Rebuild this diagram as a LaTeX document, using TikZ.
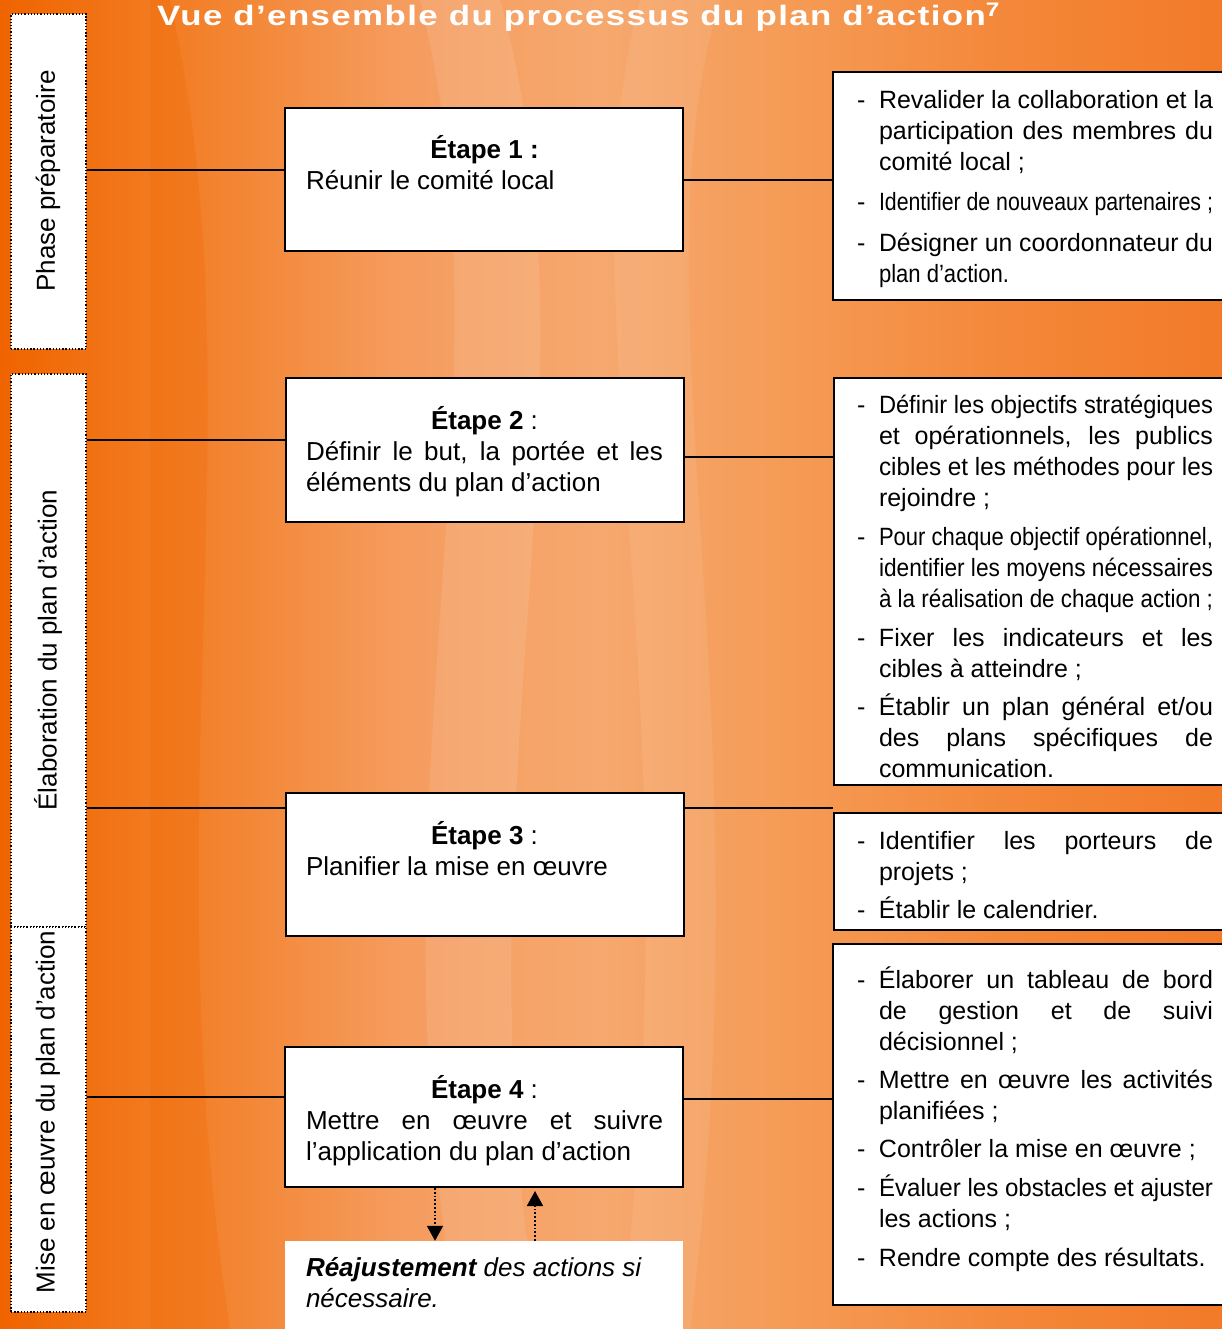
\documentclass[tikz,border=0pt]{standalone}
\usepackage{fontspec}
\setmainfont{Liberation Sans}
\newfontfamily\tfam[LetterSpace=4]{Liberation Sans}
\usepackage{graphicx}
\usetikzlibrary{arrows.meta}
\definecolor{bg0}{HTML}{F06400}
\definecolor{bg1}{HTML}{F27A1E}
\definecolor{bg2}{HTML}{F59C5E}
\definecolor{bg3}{HTML}{F6A86E}
\definecolor{bg4}{HTML}{F59A54}
\definecolor{bg5}{HTML}{F4883A}
\definecolor{bg6}{HTML}{F27A28}
\newsavebox\jbox
\newcommand\jl[2]{\sbox\jbox{#2}\ifdim\wd\jbox>#1\relax\resizebox{#1}{\height}{#2}\else\makebox[#1][s]{#2}\fi}
\newcommand\rdash{\makebox[22pt][l]{-}}
\newcommand\rind{\hspace*{22pt}}
\newcommand\rfnt{\fontsize{25}{31}\selectfont}
\newcommand\sfnt{\fontsize{26}{31}\selectfont}
\def\rw{334pt}
\def\sw{357pt}
\tikzset{
  phasebox/.style={draw=black, fill=white, line width=1.4pt, dash pattern=on 1.3pt off 1.9pt, inner sep=0pt},
  stepbox/.style={draw=black, fill=white, line width=2pt, inner sep=0pt},
  rbox/.style={draw=black, fill=white, line width=2pt, inner sep=0pt},
  txt/.style={inner sep=0pt, outer sep=0pt, anchor=base west, text=black},
  link/.style={draw=black, line width=2pt},
  dotarr/.style={draw=black, line width=1.8pt, dash pattern=on 1.8pt off 2pt, -{Triangle[width=16pt,length=15pt]}},
}
\begin{document}
\begin{tikzpicture}[x=1pt,y=-1pt]
\useasboundingbox (0,0) rectangle (1222,1329);
% background
\fill[left color=bg0, right color=bg1] (-1,-1) rectangle (151,1330);
\fill[left color=bg1, right color=bg2] (150,-1) rectangle (401,1330);
\fill[left color=bg2, right color=bg3] (400,-1) rectangle (601,1330);
\fill[left color=bg3, right color=bg4] (600,-1) rectangle (801,1330);
\fill[left color=bg4, right color=bg5] (800,-1) rectangle (1001,1330);
\fill[left color=bg5, right color=bg6] (1000,-1) rectangle (1223,1330);
\fill[white, opacity=0.10] (420,0) .. controls (520,400) and (360,800) .. (460,1329) -- (540,1329) .. controls (450,800) and (610,400) .. (500,0) -- cycle;
\fill[white, opacity=0.08] (640,0) .. controls (560,300) and (700,700) .. (620,1329) -- (690,1329) .. controls (770,700) and (630,300) .. (720,0) -- cycle;
\fill[bg0, opacity=0.25] (170,0) .. controls (260,400) and (150,800) .. (230,1329) -- (150,1329) -- (150,0) -- cycle;

% title
\node[txt, text=white] (title) at (157,26) {\resizebox{843pt}{\height}{\tfam\bfseries\fontsize{28}{30}\selectfont Vue d’ensemble du processus du plan d’action\textsuperscript{7}}};

% phase boxes
\node[phasebox, minimum width=75pt, minimum height=335pt] (ph1) at (48.5,181.5) {};
\node[phasebox, minimum width=75pt, minimum height=553pt] (ph2) at (48.5,650.5) {};
\node[phasebox, minimum width=75pt, minimum height=385pt] (ph3) at (48.5,1119.5) {};
\node[rotate=90, inner sep=0pt, font=\sfnt] (pl1) at (48,181) {Phase préparatoire};
\node[rotate=90, inner sep=0pt, font=\sfnt] (pl2) at (48,650) {Élaboration du plan d’action};
\node[rotate=90, inner sep=0pt, font=\sfnt] (pl3) at (48,1112) {Mise en œuvre du plan d’action};

% step boxes
\node[stepbox, minimum width=398pt, minimum height=143pt] (s1) at (484,179.5) {};
\node[stepbox, minimum width=398pt, minimum height=144pt] (s2) at (485,450) {};
\node[stepbox, minimum width=398pt, minimum height=143pt] (s3) at (485,864.5) {};
\node[stepbox, minimum width=398pt, minimum height=140pt] (s4) at (484,1117) {};
\node[fill=white, inner sep=0pt, minimum width=398pt, minimum height=99pt] (rj) at (484,1290.5) {};

% right boxes
\node[rbox, minimum width=397pt, minimum height=228pt] (r1) at (1031.5,186) {};
\node[rbox, minimum width=396pt, minimum height=407pt] (r2) at (1032,581.5) {};
\node[rbox, minimum width=396pt, minimum height=117pt] (r3) at (1032,871.5) {};
\node[rbox, minimum width=397pt, minimum height=361pt] (r4) at (1031.5,1124.5) {};

% connectors
\coordinate (y1) at (0,170);
\coordinate (y1r) at (0,180);
\coordinate (y2) at (0,440);
\coordinate (y2r) at (0,457);
\coordinate (y3) at (0,808);
\coordinate (y4) at (0,1097);
\coordinate (y4r) at (0,1099);
\coordinate (ax1) at (435,0);
\coordinate (ax2) at (535,0);
\draw[link] (ph1.east |- y1) -- (s1.west |- y1);
\draw[link] (ph2.east |- y2) -- (s2.west |- y2);
\draw[link] (ph2.east |- y3) -- (s3.west |- y3);
\draw[link] (ph3.east |- y4) -- (s4.west |- y4);
\draw[link] (s1.east |- y1r) -- (r1.west |- y1r);
\draw[link] (s2.east |- y2r) -- (r2.west |- y2r);
\draw[link] (s3.east |- y3) -- (r2.west |- y3);
\draw[link] (s4.east |- y4r) -- (r4.west |- y4r);
\draw[dotarr] (s4.south -| ax1) -- (rj.north -| ax1);
\draw[dotarr] (rj.north -| ax2) -- ([yshift=-3pt]s4.south -| ax2);

% step texts
\node[txt] (st1) at (306,159) {\parbox[t]{\sw}{\sfnt\setlength\parindent{0pt}%
\makebox[\sw][c]{\textbf{Étape 1 :}}\par
Réunir le comité local}};
\node[txt] (st2) at (306,429) {\parbox[t]{\sw}{\sfnt\setlength\parindent{0pt}%
\makebox[\sw][c]{\textbf{Étape 2} :}\par
\jl{\sw}{Définir le but, la portée et les}\par
éléments du plan d’action}};
\node[txt] (st3) at (306,844) {\parbox[t]{\sw}{\sfnt\setlength\parindent{0pt}%
\makebox[\sw][c]{\textbf{Étape 3} :}\par
Planifier la mise en œuvre}};
\node[txt] (st4) at (306,1098) {\parbox[t]{\sw}{\sfnt\setlength\parindent{0pt}%
\makebox[\sw][c]{\textbf{Étape 4} :}\par
\jl{\sw}{Mettre en œuvre et suivre}\par
l’application du plan d’action}};
\node[txt] (rjt) at (306,1276) {\parbox[t]{\sw}{\sfnt\itshape\setlength\parindent{0pt}%
\textbf{Réajustement} des actions si\par
nécessaire.}};

% right texts
\node[txt] (rt1) at (857,109) {\parbox[t]{360pt}{\rfnt\setlength\parindent{0pt}%
\rdash\jl{\rw}{Revalider la collaboration et la}\par
\rind\jl{\rw}{participation des membres du}\par
\rind comité local ;\par\vspace{9pt}
\rdash\jl{\rw}{Identifier de nouveaux partenaires ;}\par\vspace{10pt}
\rdash\jl{\rw}{Désigner un coordonnateur du}\par
\rind\resizebox{130pt}{\height}{plan d’action.}}};

\node[txt] (rt2) at (857,413) {\parbox[t]{360pt}{\rfnt\setlength\parindent{0pt}%
\rdash\jl{\rw}{Définir les objectifs stratégiques}\par
\rind\jl{\rw}{et opérationnels, les publics}\par
\rind\jl{\rw}{cibles et les méthodes pour les}\par
\rind rejoindre ;\par\vspace{8pt}
\rdash\jl{\rw}{Pour chaque objectif opérationnel,}\par
\rind\jl{\rw}{identifier les moyens nécessaires}\par
\rind\jl{\rw}{à la réalisation de chaque action ;}\par\vspace{8pt}
\rdash\jl{\rw}{Fixer les indicateurs et les}\par
\rind cibles à atteindre ;\par\vspace{7pt}
\rdash\jl{\rw}{Établir un plan général et/ou}\par
\rind\jl{\rw}{des plans spécifiques de}\par
\rind communication.}};

\node[txt] (rt3) at (857,849) {\parbox[t]{360pt}{\rfnt\setlength\parindent{0pt}%
\rdash\jl{\rw}{Identifier les porteurs de}\par
\rind projets ;\par\vspace{7pt}
\rdash Établir le calendrier.}};

\node[txt] (rt4) at (857,988) {\parbox[t]{360pt}{\rfnt\setlength\parindent{0pt}%
\rdash\jl{\rw}{Élaborer un tableau de bord}\par
\rind\jl{\rw}{de gestion et de suivi}\par
\rind décisionnel ;\par\vspace{7pt}
\rdash\jl{\rw}{Mettre en œuvre les activités}\par
\rind planifiées ;\par\vspace{7pt}
\rdash Contrôler la mise en œuvre ;\par\vspace{8pt}
\rdash\jl{\rw}{Évaluer les obstacles et ajuster}\par
\rind les actions ;\par\vspace{8pt}
\rdash Rendre compte des résultats.}};
\end{tikzpicture}
\end{document}
